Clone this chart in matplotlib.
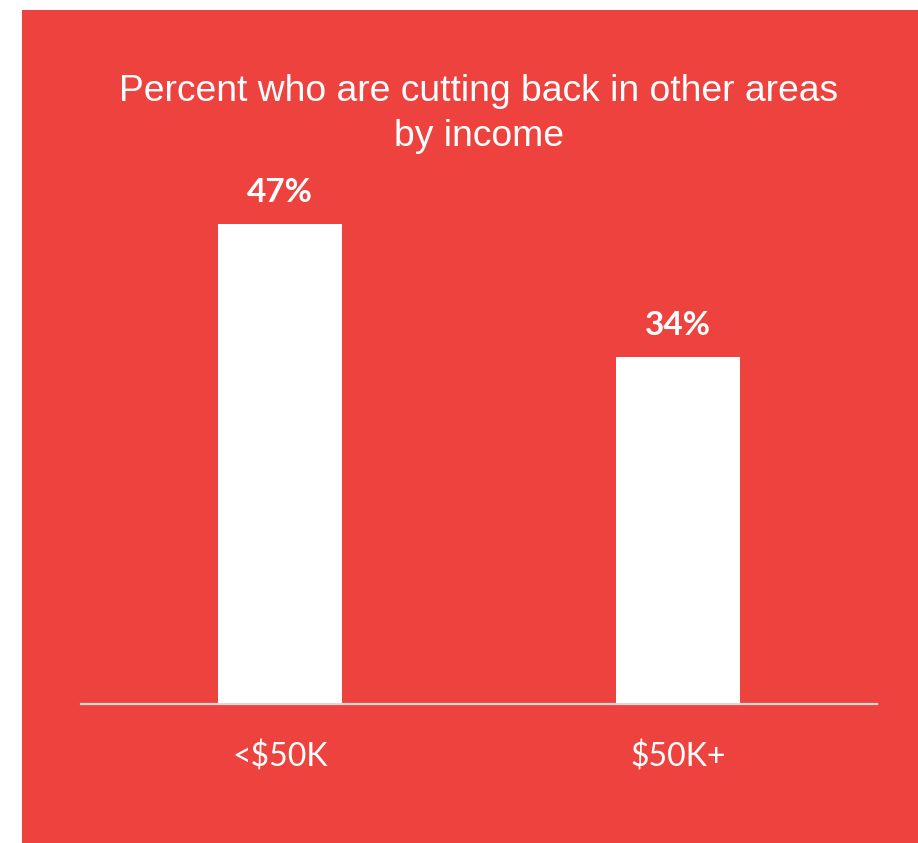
import matplotlib.pyplot as plt
from matplotlib.patches import Rectangle

# income groups and share cutting back elsewhere (%)
categories = ["<$50K", "$50K+"]
values = [47, 34]

BG_RED = "#EE423E"
AXIS_GREY = "#D9D9D9"

W, H = 918, 843
fig = plt.figure(figsize=(W / 100, H / 100), dpi=100)
fig.patch.set_facecolor("white")

# red panel, inset from the top/left edge
fig.add_artist(Rectangle((22 / W, 0), 1 - 22 / W, 1 - 10 / H,
                         transform=fig.transFigure, facecolor=BG_RED,
                         edgecolor="none", zorder=0))

# axes spans the baseline rule; 10.21 px per percentage point
base_y = H - 704
ax_h = 60 * 10.21
ax = fig.add_axes([81 / W, base_y / H, (877 - 81) / W, ax_h / H])
ax.set_facecolor("none")

x = range(len(categories))
bars = ax.bar(x, values, width=0.314, color="white", zorder=2)
ax.set_xlim(-0.5, 1.5)
ax.set_ylim(0, 60)

for spine in ["top", "right", "left"]:
    ax.spines[spine].set_visible(False)
ax.spines["bottom"].set_color(AXIS_GREY)
ax.spines["bottom"].set_linewidth(1.6)
ax.spines["bottom"].set_zorder(3)
ax.set_yticks([])
ax.set_xticks(list(x))
ax.set_xticklabels(categories, family="Lato", fontsize=23, color="white")
ax.tick_params(axis="x", length=0, pad=27)

for bar, v in zip(bars, values):
    ax.annotate(f"{v}%", (bar.get_x() + bar.get_width() / 2, v),
                xytext=(0, 12), textcoords="offset points",
                ha="center", va="bottom", family="Lato", fontweight="bold",
                fontsize=24, color="white")

fig.text(479 / W, 1 - 114 / H,
         "Percent who are cutting back in other areas\nby income",
         ha="center", va="center", family="Liberation Sans", fontsize=26.8,
         color="white", linespacing=1.35)

fig.savefig("out.png", dpi=100, facecolor=fig.get_facecolor())
